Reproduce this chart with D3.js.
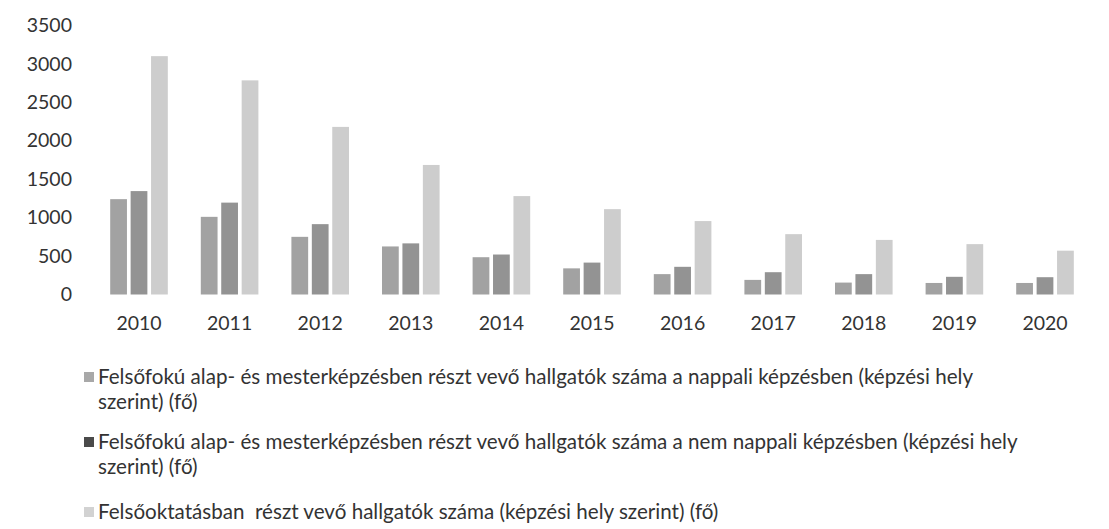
<!DOCTYPE html>
<html>
<head>
<meta charset="utf-8">
<script src="https://cdn.jsdelivr.net/npm/d3@7"></script>
<style>
  html, body { margin: 0; padding: 0; background: #fff; }
  svg { display: block; font-family: Lato, "Open Sans", sans-serif; }
  .leg { white-space: pre; }
</style>
</head>
<body>
<svg id="chart" width="1109" height="529"></svg>
<script>
// data
const years = ['2010', '2011', '2012', '2013', '2014', '2015', '2016', '2017', '2018', '2019', '2020'];
const nappali = [1240, 1010, 750, 625, 485, 340, 265, 190, 155, 150, 150];
const nemNappali = [1345, 1195, 915, 665, 520, 415, 360, 290, 265, 230, 225];
const osszes = [3100, 2785, 2180, 1685, 1280, 1110, 955, 785, 710, 655, 570];
const yTicks = [0, 500, 1000, 1500, 2000, 2500, 3000, 3500];

const seriesNames = [
  ['Felsőfokú alap- és mesterképzésben részt vevő hallgatók száma a nappali képzésben (képzési hely', 'szerint) (fő)'],
  ['Felsőfokú alap- és mesterképzésben részt vevő hallgatók száma a nem nappali képzésben (képzési hely', 'szerint) (fő)'],
  ['Felsőoktatásban  részt vevő hallgatók száma (képzési hely szerint) (fő)']
];
const seriesColors = ['#a2a2a2', '#939393', '#cdcdcd'];
const legendColors = ['#a8a8a8', '#4a4a4a', '#d2d2d2'];

const svg = d3.select('#chart');
const textColor = '#333';

const y = d3.scaleLinear().domain([0, 3500]).range([294.5, 25.4]);
const x0 = d3.scaleBand().domain(years).range([93.7, 1090.3]);
const x1 = d3.scaleBand().domain([0, 1, 2]).range([-28.8, 28.8]).paddingInner(0.18);

// y axis (labels only)
const yAxis = svg.append('g')
  .attr('transform', 'translate(72,0)')
  .call(d3.axisLeft(y).tickValues(yTicks).tickFormat(d3.format('d')).tickSize(0).tickPadding(0));
yAxis.select('.domain').remove();
yAxis.selectAll('text')
  .attr('font-family', 'Lato, "Open Sans", sans-serif')
  .attr('font-size', 19.5)
  .attr('fill', textColor);

// x axis (labels only)
const xAxis = svg.append('g')
  .attr('transform', 'translate(0,294.5)')
  .call(d3.axisBottom(x0).tickSize(0).tickPadding(22));
xAxis.select('.domain').remove();
xAxis.selectAll('text')
  .attr('font-family', 'Lato, "Open Sans", sans-serif')
  .attr('font-size', 19.5)
  .attr('fill', textColor);

// bars
const table = years.map((yr, i) => ({ year: yr, values: [nappali[i], nemNappali[i], osszes[i]] }));

const groups = svg.append('g').selectAll('g')
  .data(table)
  .join('g')
  .attr('transform', d => `translate(${x0(d.year) + x0.bandwidth() / 2},0)`);

groups.selectAll('rect')
  .data(d => d.values.map((v, k) => ({ k, v })))
  .join('rect')
  .attr('x', d => x1(d.k))
  .attr('width', x1.bandwidth())
  .attr('y', d => y(d.v))
  .attr('height', d => y(0) - y(d.v))
  .attr('fill', d => seriesColors[d.k]);

// legend
const legendRows = [[384, 409], [449, 474], [519]];
const legend = svg.append('g');

seriesNames.forEach((lines, i) => {
  const g = legend.append('g');
  g.append('rect')
    .attr('x', 84).attr('y', legendRows[i][0] - 12)
    .attr('width', 10).attr('height', 10)
    .attr('fill', legendColors[i]);
  lines.forEach((t, j) => {
    g.append('text')
      .attr('class', 'leg')
      .attr('x', 98)
      .attr('y', legendRows[i][j])
      .attr('font-size', 20.6)
      .attr('fill', textColor)
      .text(t);
  });
});
</script>
</body>
</html>
